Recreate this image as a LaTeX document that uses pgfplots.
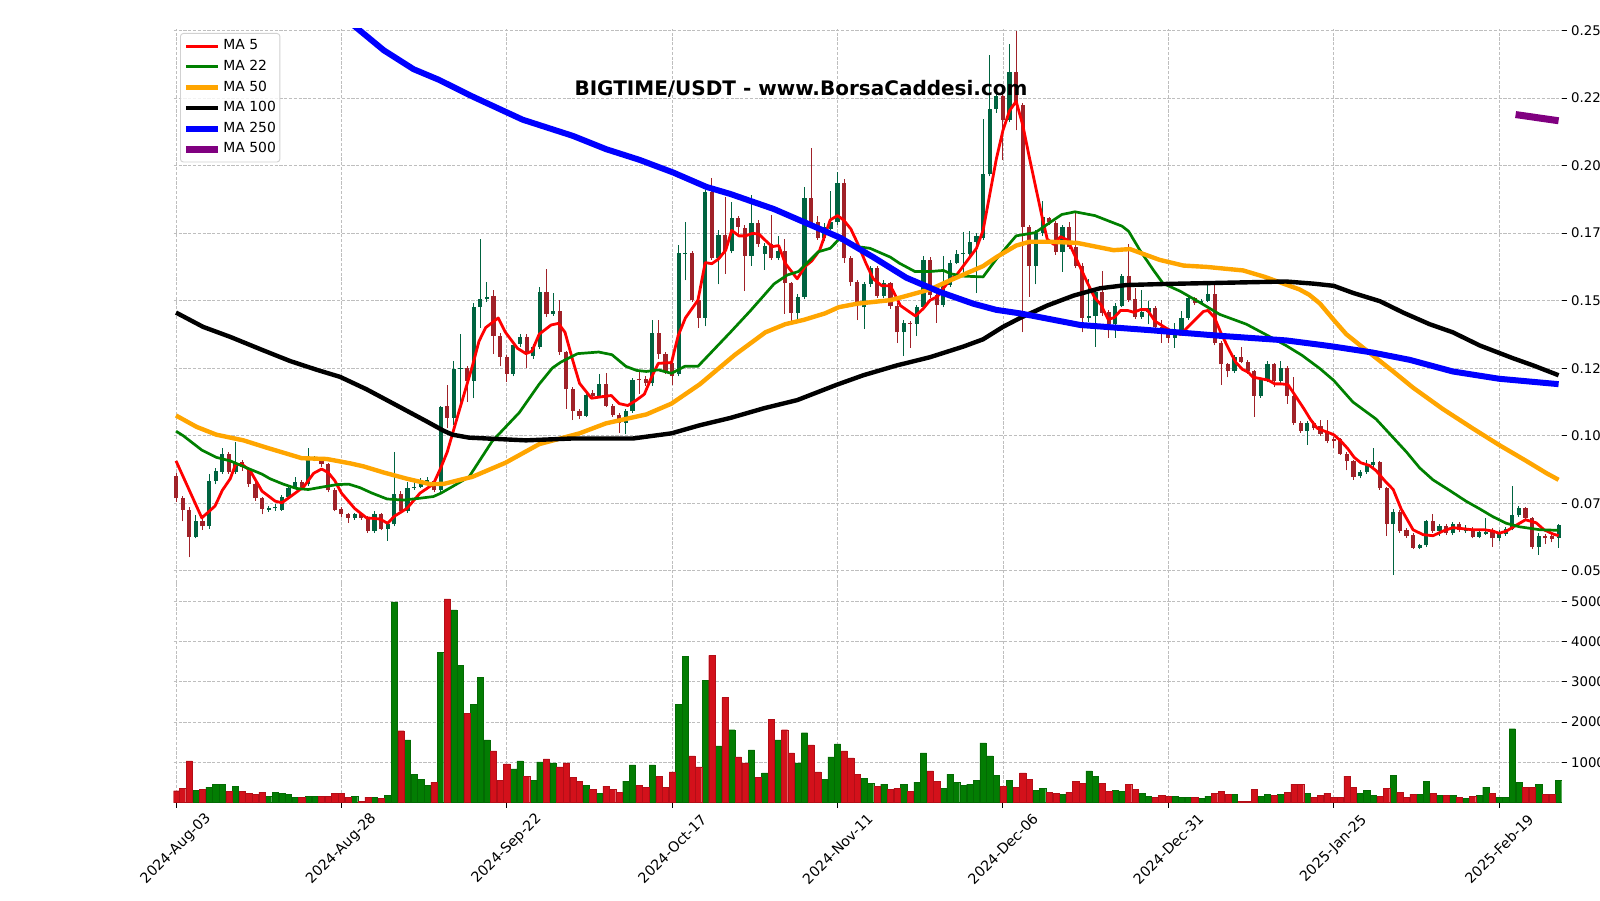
\documentclass[border=0pt]{standalone}
\usepackage{fontspec}
\setmainfont{DejaVu Sans}
\usepackage{pgfplots}
\usepackage{pgfplotstable}
\pgfplotsset{compat=1.18}
\definecolor{cup}{HTML}{006340}
\definecolor{cdn}{HTML}{A02128}
\definecolor{vup}{RGB}{3,125,3}
\definecolor{vdn}{RGB}{211,17,27}
\definecolor{maorange}{HTML}{FFA500}
\definecolor{mapurple}{HTML}{800080}
\definecolor{gridc}{RGB}{190,190,190}

\pgfplotstableread{
d o h l c v
3 0.0626 0.0705 0.0620 0.0683 308
5 0.0665 0.0858 0.0655 0.0834 383
6 0.0834 0.0880 0.0820 0.0871 458
7 0.0867 0.0956 0.0860 0.0934 458
9 0.0867 0.0977 0.0860 0.0900 408
14 0.0726 0.0740 0.0718 0.0731 158
15 0.0731 0.0748 0.0722 0.0738 258
16 0.0727 0.0782 0.0722 0.0775 233
17 0.0775 0.0815 0.0770 0.0808 208
18 0.0810 0.0848 0.0802 0.0828 133
20 0.0821 0.0953 0.0815 0.0916 158
21 0.0912 0.0925 0.0905 0.0916 158
27 0.0696 0.0715 0.0690 0.0709 158
30 0.0647 0.0722 0.0640 0.0709 133
32 0.0656 0.0680 0.0612 0.0673 183
33 0.0673 0.0940 0.0665 0.0784 4983
35 0.0722 0.0828 0.0715 0.0808 1558
36 0.0808 0.0840 0.0800 0.0812 708
37 0.0810 0.0845 0.0805 0.0832 583
38 0.0830 0.0848 0.0822 0.0838 433
40 0.0798 0.1112 0.0790 0.1105 3733
42 0.1066 0.1277 0.1040 0.1247 4783
43 0.1247 0.1377 0.1125 0.1252 3408
45 0.1202 0.1490 0.1138 0.1476 2433
46 0.1476 0.1730 0.1400 0.1506 3108
47 0.1508 0.1568 0.1495 0.1514 1558
51 0.1229 0.1345 0.1220 0.1337 833
52 0.1340 0.1375 0.1330 0.1366 1033
54 0.1295 0.1340 0.1285 0.1330 558
55 0.1330 0.1549 0.1320 0.1533 1008
57 0.1452 0.1529 0.1445 0.1460 983
62 0.1075 0.1160 0.1068 0.1152 433
64 0.1146 0.1230 0.1140 0.1190 233
68 0.1048 0.1100 0.1005 0.1093 533
69 0.1093 0.1215 0.1085 0.1208 933
72 0.1194 0.1430 0.1185 0.1380 933
76 0.1228 0.1705 0.1220 0.1678 2433
77 0.1672 0.1793 0.1575 0.1678 3633
80 0.1436 0.1910 0.1405 0.1903 3033
82 0.1657 0.1760 0.1560 0.1744 1408
84 0.1683 0.1865 0.1675 0.1806 1808
87 0.1665 0.1891 0.1630 0.1789 1308
89 0.1674 0.1715 0.1615 0.1704 733
91 0.1657 0.1740 0.1650 0.1683 1558
94 0.1456 0.1525 0.1433 0.1515 983
95 0.1515 0.1921 0.1505 0.1879 1733
98 0.1733 0.1786 0.1720 0.1773 583
99 0.1765 0.1905 0.1760 0.1790 1133
100 0.1790 0.1978 0.1780 0.1935 1458
104 0.1475 0.1570 0.1395 0.1560 608
105 0.1562 0.1630 0.1550 0.1621 483
107 0.1519 0.1575 0.1510 0.1564 458
110 0.1383 0.1428 0.1295 0.1419 458
112 0.1414 0.1485 0.1370 0.1476 508
113 0.1476 0.1667 0.1465 0.1651 1233
116 0.1485 0.1665 0.1475 0.1559 358
117 0.1559 0.1650 0.1550 0.1641 708
118 0.1641 0.1688 0.1635 0.1674 508
119 0.1672 0.1754 0.1590 0.1676 433
120 0.1674 0.1758 0.1665 0.1718 458
121 0.1718 0.1750 0.1528 0.1740 558
122 0.1733 0.2173 0.1725 0.1969 1483
123 0.1969 0.2408 0.1960 0.2209 1158
124 0.2209 0.2265 0.2195 0.2256 683
126 0.2167 0.2450 0.2160 0.2348 558
130 0.1628 0.1760 0.1560 0.1749 308
131 0.1749 0.1870 0.1740 0.1810 358
134 0.1680 0.1782 0.1608 0.1771 208
138 0.1436 0.1580 0.1420 0.1443 783
139 0.1443 0.1545 0.1330 0.1532 658
142 0.1413 0.1490 0.1362 0.1482 308
143 0.1482 0.1600 0.1475 0.1590 283
146 0.1440 0.1540 0.1432 0.1459 233
147 0.1459 0.1498 0.1412 0.1472 158
151 0.1363 0.1418 0.1325 0.1383 158
152 0.1383 0.1462 0.1375 0.1436 133
153 0.1436 0.1515 0.1430 0.1509 133
155 0.1493 0.1508 0.1485 0.1500 108
156 0.1500 0.1560 0.1495 0.1526 158
160 0.1238 0.1298 0.1232 0.1291 208
164 0.1149 0.1212 0.1140 0.1205 158
165 0.1205 0.1277 0.1198 0.1264 208
167 0.1202 0.1277 0.1195 0.1251 208
171 0.1017 0.1056 0.0967 0.1049 233
179 0.0850 0.0875 0.0842 0.0867 233
180 0.0867 0.0910 0.0860 0.0890 308
181 0.0890 0.0955 0.0885 0.0904 183
184 0.0673 0.0728 0.0484 0.0718 683
188 0.0586 0.0600 0.0580 0.0594 208
189 0.0594 0.0690 0.0588 0.0683 533
191 0.0647 0.0672 0.0630 0.0665 183
193 0.0639 0.0680 0.0632 0.0673 183
195 0.0646 0.0670 0.0640 0.0656 108
197 0.0626 0.0655 0.0620 0.0645 183
198 0.0637 0.0695 0.0632 0.0642 383
200 0.0622 0.0650 0.0612 0.0636 133
201 0.0636 0.0662 0.0630 0.0656 133
202 0.0656 0.0815 0.0650 0.0705 1833
203 0.0705 0.0740 0.0700 0.0731 508
206 0.0590 0.0640 0.0560 0.0630 458
209 0.0623 0.0675 0.0585 0.0669 558
}\upT

\pgfplotstableread{
d o h l c v
0 0.0850 0.0862 0.0755 0.0768 292
1 0.0771 0.0776 0.0683 0.0726 358
2 0.0726 0.0735 0.0550 0.0626 1033
4 0.0683 0.0705 0.0652 0.0665 333
8 0.0934 0.0940 0.0860 0.0867 283
10 0.0902 0.0910 0.0870 0.0884 283
11 0.0876 0.0885 0.0812 0.0821 233
12 0.0821 0.0828 0.0760 0.0768 208
13 0.0768 0.0772 0.0709 0.0729 258
19 0.0828 0.0835 0.0805 0.0811 133
22 0.0907 0.0912 0.0885 0.0894 158
23 0.0894 0.0900 0.0790 0.0798 158
24 0.0798 0.0805 0.0720 0.0726 233
25 0.0729 0.0735 0.0700 0.0709 233
26 0.0709 0.0715 0.0678 0.0696 133
28 0.0709 0.0715 0.0690 0.0696 30
29 0.0696 0.0702 0.0640 0.0647 133
31 0.0709 0.0715 0.0650 0.0656 108
34 0.0784 0.0795 0.0715 0.0722 1783
39 0.0834 0.0840 0.0790 0.0798 508
41 0.1112 0.1189 0.1027 0.1066 5058
44 0.1251 0.1260 0.1125 0.1202 2208
48 0.1516 0.1541 0.1302 0.1370 1283
49 0.1370 0.1380 0.1257 0.1292 558
50 0.1292 0.1300 0.1200 0.1229 958
53 0.1366 0.1375 0.1250 0.1310 658
56 0.1533 0.1617 0.1440 0.1450 1083
58 0.1460 0.1502 0.1300 0.1310 883
59 0.1310 0.1315 0.1100 0.1172 983
60 0.1172 0.1180 0.1058 0.1092 633
61 0.1092 0.1100 0.1062 0.1075 533
63 0.1160 0.1168 0.1140 0.1148 333
65 0.1190 0.1234 0.1105 0.1110 408
66 0.1112 0.1118 0.1070 0.1078 333
67 0.1078 0.1085 0.1012 0.1048 258
70 0.1211 0.1245 0.1155 0.1205 433
71 0.1211 0.1220 0.1185 0.1194 383
73 0.1380 0.1430 0.1285 0.1304 658
74 0.1304 0.1310 0.1230 0.1238 383
75 0.1268 0.1275 0.1188 0.1222 758
78 0.1678 0.1685 0.1495 0.1502 1158
79 0.1502 0.1510 0.1400 0.1436 883
81 0.1903 0.1955 0.1650 0.1657 3658
83 0.1744 0.1885 0.1600 0.1685 2608
85 0.1806 0.1815 0.1745 0.1773 1133
86 0.1770 0.1780 0.1535 0.1665 983
88 0.1789 0.1800 0.1700 0.1710 633
90 0.1710 0.1817 0.1650 0.1657 2058
92 0.1683 0.1727 0.1451 0.1564 1808
93 0.1564 0.1570 0.1423 0.1456 1233
96 0.1879 0.2067 0.1775 0.1786 1433
97 0.1793 0.1815 0.1725 0.1733 758
101 0.1935 0.1950 0.1640 0.1657 1283
102 0.1657 0.1665 0.1555 0.1568 1108
103 0.1568 0.1575 0.1428 0.1488 708
106 0.1621 0.1630 0.1510 0.1519 408
108 0.1564 0.1570 0.1470 0.1482 333
109 0.1482 0.1490 0.1343 0.1383 358
111 0.1419 0.1425 0.1325 0.1414 283
114 0.1651 0.1660 0.1510 0.1522 783
115 0.1522 0.1530 0.1418 0.1485 533
125 0.2256 0.2265 0.2020 0.2167 408
127 0.2348 0.2498 0.2130 0.2223 383
128 0.2223 0.2230 0.1383 0.1771 733
129 0.1771 0.1780 0.1515 0.1628 583
132 0.1805 0.1810 0.1780 0.1790 258
133 0.1789 0.1795 0.1670 0.1680 233
135 0.1771 0.1790 0.1690 0.1700 258
136 0.1700 0.1830 0.1620 0.1630 533
137 0.1630 0.1640 0.1383 0.1436 483
140 0.1532 0.1610 0.1445 0.1453 483
141 0.1459 0.1465 0.1362 0.1413 283
144 0.1590 0.1710 0.1495 0.1502 458
145 0.1506 0.1546 0.1432 0.1440 333
148 0.1472 0.1480 0.1395 0.1403 133
149 0.1403 0.1430 0.1345 0.1395 183
150 0.1390 0.1395 0.1343 0.1363 158
154 0.1509 0.1515 0.1485 0.1493 133
157 0.1526 0.1564 0.1335 0.1343 233
158 0.1343 0.1350 0.1189 0.1264 283
159 0.1264 0.1270 0.1216 0.1238 208
161 0.1291 0.1327 0.1268 0.1274 20
162 0.1274 0.1280 0.1230 0.1238 20
163 0.1238 0.1244 0.1070 0.1149 333
166 0.1264 0.1270 0.1180 0.1202 183
168 0.1251 0.1258 0.1118 0.1149 258
169 0.1149 0.1218 0.1040 0.1049 458
170 0.1049 0.1055 0.1010 0.1017 458
172 0.1049 0.1055 0.1020 0.1030 133
173 0.1035 0.1059 0.1000 0.1006 183
174 0.1013 0.1057 0.0972 0.0980 233
175 0.0987 0.0995 0.0955 0.0980 133
176 0.0987 0.0992 0.0928 0.0934 133
177 0.0934 0.0940 0.0872 0.0907 658
178 0.0907 0.0912 0.0838 0.0848 383
182 0.0903 0.0908 0.0800 0.0808 158
183 0.0808 0.0812 0.0630 0.0673 358
185 0.0718 0.0725 0.0640 0.0649 258
186 0.0652 0.0660 0.0622 0.0630 133
187 0.0634 0.0640 0.0580 0.0586 208
190 0.0683 0.0709 0.0640 0.0647 233
192 0.0665 0.0672 0.0632 0.0639 183
194 0.0673 0.0680 0.0645 0.0652 133
196 0.0656 0.0662 0.0620 0.0626 158
199 0.0652 0.0660 0.0590 0.0620 233
204 0.0731 0.0738 0.0690 0.0696 383
205 0.0696 0.0700 0.0580 0.0590 383
207 0.0630 0.0635 0.0600 0.0620 208
208 0.0630 0.0640 0.0605 0.0618 208
}\dnT

\pgfplotsset{
  mygrid/.style={grid=major, major grid style={gridc, line width=0.8pt, dash pattern=on 3.2pt off 1.6pt}},
}

\begin{document}
\begin{tikzpicture}
\useasboundingbox (0,0) rectangle (1600pt,900pt);

% ---------------- price panel ----------------
\begin{axis}[
  at={(173.7pt,317pt)}, anchor=south west, scale only axis,
  width=1388.2pt, height=554.4pt,
  xmin=-0.35, xmax=209.5, ymin=0.0455, ymax=0.25072,
  axis line style={draw=none},
  xtick={0,25,50,75,100,125,150,175,200}, xticklabels={}, xtick style={draw=none},
  ytick={0.05,0.075,0.1,0.125,0.15,0.175,0.2,0.225,0.25},
  yticklabels={0.050,0.075,0.100,0.125,0.150,0.175,0.200,0.225,0.250},
  ytick pos=right, yticklabel pos=right,
  tick align=outside, major tick length=5pt,
  ytick style={black, line width=0.9pt},
  yticklabel style={font=\fontsize{13.3}{15}\selectfont, anchor=west, inner sep=0pt, xshift=4pt},
  mygrid,
  legend image code/.code={\draw[#1, line cap=butt] (0pt,0pt) -- (32pt,0pt);},
  legend cell align=left,
  legend style={at={(axis description cs:0,1)}, anchor=north west, xshift=6.3pt, yshift=-4.4pt,
    font=\fontsize{13.9}{16}\selectfont, draw=black!18, line width=0.9pt, rounded corners=3pt,
    fill=white, fill opacity=0.8, text opacity=1, inner xsep=2pt, inner ysep=2.5pt, row sep=0pt,
    nodes={inner xsep=2pt, inner ysep=3.6pt, text height=10.4pt, text depth=3pt},
    /tikz/every even column/.append style={column sep=5pt}},
]
% wicks
\addplot[forget plot, draw=none, mark=none, error bars/.cd, y dir=plus, y explicit, error mark=none,
  error bar style={draw=cup, line width=1pt, solid}]
  table[x=d, y=l, y error expr={\thisrow{h}-\thisrow{l}}] {\upT};
\addplot[forget plot, draw=none, mark=none, error bars/.cd, y dir=plus, y explicit, error mark=none,
  error bar style={draw=cdn, line width=1pt, solid}]
  table[x=d, y=l, y error expr={\thisrow{h}-\thisrow{l}}] {\dnT};
% bodies
\addplot[forget plot, draw=none, mark=none, error bars/.cd, y dir=plus, y explicit, error mark=none,
  error bar style={draw=cup, line width=4.2pt, solid, line cap=butt}]
  table[x=d, y=o, y error expr={\thisrow{c}-\thisrow{o}}] {\upT};
\addplot[forget plot, draw=none, mark=none, error bars/.cd, y dir=plus, y explicit, error mark=none,
  error bar style={draw=cdn, line width=4.2pt, solid, line cap=butt}]
  table[x=d, y=c, y error expr={\thisrow{o}-\thisrow{c}}] {\dnT};

% moving averages
\addplot[red, line width=2.8pt, line join=round] coordinates {
(0,0.0907) (3.9,0.0696) (5.9,0.0740) (7,0.0798) (8.2,0.0841) (9,0.0894) (10,0.0894) (11.2,0.0871)
(13,0.0795) (15,0.0758) (16,0.0752) (17.7,0.0782) (19.3,0.0811) (20.8,0.0861) (22,0.0877) (23,0.0864)
(24,0.0834) (25,0.0788) (27,0.0731) (28.8,0.0696) (30.8,0.0692) (32,0.0676) (33,0.0702) (34.9,0.0731)
(36.9,0.0788) (38.9,0.0821) (40,0.0880) (41,0.0940) (42.8,0.1092) (44.8,0.1258) (45.8,0.1350)
(46.8,0.1400) (48.7,0.1436) (49.8,0.1383) (51.6,0.1324) (52.9,0.1304) (53.8,0.1313) (54.9,0.1376)
(56.7,0.1410) (57.8,0.1416) (58.8,0.1383) (60,0.1277) (61,0.1194) (62.8,0.1139) (64.5,0.1145)
(65.8,0.1149) (67,0.1119) (68.3,0.1112) (69.6,0.1132) (70.8,0.1154) (71.9,0.1218) (72.9,0.1268)
(74.9,0.1271) (75.9,0.1370) (77,0.1436) (78.9,0.1502) (80,0.1641) (81,0.1637) (82,0.1654)
(83.1,0.1687) (84,0.1760) (85.1,0.1740) (86.1,0.1740) (87.1,0.1749) (88.1,0.1747) (89.1,0.1723)
(90.1,0.1700) (91.1,0.1704) (92.1,0.1638) (93.9,0.1581) (95.1,0.1627) (96.1,0.1647) (97.3,0.1687)
(98.9,0.1799) (100,0.1815) (100.9,0.1799) (102,0.1766) (103,0.1714) (104.3,0.1638) (105.4,0.1581)
(106.7,0.1555) (108,0.1555) (109.5,0.1482) (110.9,0.1458) (111.8,0.1443) (113,0.1472) (114,0.1502)
(115.1,0.1515) (116,0.1546) (117,0.1577) (118,0.1595) (119,0.1628) (120,0.1661) (121,0.1694)
(122,0.1760) (123,0.1892) (124,0.2024) (125,0.2130) (126,0.2203) (127,0.2238) (128,0.2150)
(129,0.2030) (130,0.1915) (131,0.1801) (131.7,0.1728) (132.7,0.1708) (133.7,0.1737) (134.8,0.1724)
(136.7,0.1623) (137.7,0.1570) (138.9,0.1510) (139.8,0.1486) (140.9,0.1431) (141.8,0.1437)
(142.8,0.1464) (143.8,0.1464) (144.8,0.1457) (145.8,0.1467) (146.8,0.1467) (148,0.1424)
(149.7,0.1398) (150.7,0.1384) (151.9,0.1375) (153,0.1404) (154.2,0.1433) (155.3,0.1460) (156,0.1464)
(157,0.1437) (158,0.1378) (159.2,0.1318) (160.2,0.1272) (161.2,0.1246) (162.1,0.1235) (162.8,0.1217)
(163.8,0.1212) (165.1,0.1206) (166.1,0.1192) (167.1,0.1192) (168.1,0.1189) (169.1,0.1152)
(170.5,0.1100) (171.5,0.1060) (172.5,0.1028) (173.5,0.1018) (174.1,0.1013) (175,0.1004)
(176.1,0.0980) (177.1,0.0953) (178.1,0.0920) (179.1,0.0900) (180.4,0.0890) (181.4,0.0871)
(182.7,0.0834) (184,0.0801) (185.2,0.0729) (187,0.0652) (188.5,0.0634) (190,0.0630) (191.5,0.0647)
(193,0.0660) (194.5,0.0656) (196,0.0652) (197.8,0.0652) (199.1,0.0647) (200,0.0639) (201.1,0.0647)
(202.6,0.0669) (204,0.0689) (205.6,0.0678) (206.8,0.0652) (208.2,0.0636) (209,0.0630)
};
\addlegendentry{MA 5}
\addplot[green!50!black, line width=2.7pt, line join=round] coordinates {
(0,0.1017) (1.1,0.1000) (3.9,0.0947) (6.1,0.0920) (8.2,0.0907) (10.7,0.0881) (13,0.0858) (14.2,0.0841)
(16.2,0.0821) (18.2,0.0805) (20,0.0801) (22.3,0.0811) (24.3,0.0819) (26.1,0.0821) (27.8,0.0808)
(29.6,0.0788) (31.9,0.0766) (34.4,0.0762) (36.6,0.0768) (38.9,0.0775) (40,0.0787) (42,0.0815)
(44.3,0.0848) (47.8,0.0980) (51.9,0.1086) (54.9,0.1191) (56.9,0.1251) (58.2,0.1273) (60.7,0.1304)
(63.9,0.1310) (65.9,0.1300) (68,0.1257) (69.6,0.1242) (71.1,0.1238) (72.9,0.1244) (74.9,0.1231)
(76.9,0.1257) (78.9,0.1257) (83.8,0.1383) (86.8,0.1462) (90.4,0.1562) (92.4,0.1595) (94.1,0.1608)
(97.1,0.1681) (98.9,0.1694) (100.2,0.1727) (103,0.1700) (104.9,0.1694) (108,0.1661) (109.4,0.1638)
(111.7,0.1608) (114,0.1608) (116,0.1612) (117.2,0.1599) (119,0.1591) (122,0.1588) (124,0.1654)
(127,0.1740) (129.9,0.1752) (131.9,0.1786) (133.9,0.1819) (135.9,0.1829) (138.9,0.1815)
(141.2,0.1793) (143,0.1776) (144,0.1757) (145.7,0.1687) (147.7,0.1615) (149.2,0.1564) (151.8,0.1535)
(154.8,0.1493) (157.8,0.1449) (161.8,0.1413) (165.1,0.1370) (167.8,0.1334) (170.2,0.1298)
(172.9,0.1249) (175,0.1205) (177.9,0.1125) (181.4,0.1062) (184,0.0993) (186,0.0940) (188,0.0881)
(190,0.0837) (192.5,0.0798) (195,0.0758) (197.1,0.0729) (199.1,0.0700) (201.1,0.0676) (203.1,0.0663)
(206.2,0.0652) (209,0.0650)
};
\addlegendentry{MA 22}
\addplot[maorange, line width=4.4pt, line join=round] coordinates {
(0,0.1075) (3.1,0.1033) (6.1,0.1004) (10.2,0.0983) (13.7,0.0956) (16.7,0.0934) (19,0.0917)
(22.8,0.0914) (26.3,0.0898) (28.3,0.0887) (31.4,0.0864) (34.9,0.0841) (38.4,0.0821) (40.5,0.0822)
(44.8,0.0848) (49.8,0.0900) (54.9,0.0969) (61,0.1009) (65,0.1046) (71.1,0.1079) (74.9,0.1119)
(79.2,0.1191) (84.5,0.1300) (89.1,0.1383) (92.1,0.1413) (94.9,0.1429) (98.1,0.1453) (100.2,0.1476)
(103,0.1489) (108,0.1502) (110,0.1515) (114,0.1542) (117,0.1575) (122,0.1628) (124,0.1661)
(127,0.1704) (129,0.1718) (132.2,0.1718) (136.2,0.1714) (141.7,0.1687) (144.2,0.1691) (148.7,0.1651)
(152.3,0.1630) (155.8,0.1625) (161.3,0.1612) (164.6,0.1588) (167.3,0.1564) (169.8,0.1542)
(171.3,0.1522) (172.9,0.1490) (175,0.1429) (176.9,0.1376) (179.9,0.1317) (184,0.1238) (187,0.1178)
(191.5,0.1099) (196.1,0.1026) (200,0.0966) (204.1,0.0907) (207.2,0.0861) (209,0.0837)
};
\addlegendentry{MA 50}
\addplot[black, line width=4.4pt, line join=round] coordinates {
(0,0.1456) (4.1,0.1403) (8.2,0.1366) (12.7,0.1321) (17.2,0.1277) (21.3,0.1244) (24.8,0.1218)
(28.8,0.1172) (33.4,0.1112) (37.9,0.1053) (40.5,0.1018) (41.8,0.1004) (44.3,0.0993) (52.9,0.0983)
(60,0.0990) (69.1,0.0990) (74.9,0.1009) (79.2,0.1039) (83.8,0.1066) (88.9,0.1102) (93.9,0.1132)
(99.9,0.1189) (103.9,0.1224) (108.9,0.1260) (114,0.1291) (119,0.1330) (122,0.1357) (125,0.1403)
(127.6,0.1436) (131.7,0.1482) (135.7,0.1519) (139.7,0.1546) (143.7,0.1558) (149.7,0.1562)
(157.8,0.1566) (167.8,0.1571) (172,0.1563) (175,0.1555) (177.9,0.1529) (182,0.1498) (185.5,0.1456)
(189.5,0.1413) (193,0.1383) (197.1,0.1334) (202.1,0.1287) (205.2,0.1260) (209,0.1224)
};
\addlegendentry{MA 100}
\addplot[blue, line width=6pt, line join=round] coordinates {
(24,0.2580) (27,0.2516) (31.4,0.2427) (35.9,0.2357) (39.7,0.2318) (44.8,0.2256) (52.4,0.2170)
(60,0.2110) (65,0.2061) (70.1,0.2021) (75.2,0.1974) (80.2,0.1921) (83.8,0.1895) (90.4,0.1839)
(95.4,0.1786) (100.4,0.1733) (105.4,0.1661) (110.4,0.1585) (115.5,0.1532) (120.5,0.1489)
(124,0.1466) (127.6,0.1453) (136.7,0.1410) (147.7,0.1390) (157.8,0.1370) (167.8,0.1353)
(172.9,0.1337) (175,0.1330) (180.9,0.1308) (186.5,0.1281) (193,0.1238) (200,0.1211) (209,0.1191)
};
\addlegendentry{MA 250}
\addplot[mapurple, line width=7pt] coordinates {(202.5,0.2189) (209,0.2166)};
\addlegendentry{MA 500}
\end{axis}

% ---------------- volume panel ----------------
\begin{axis}[
  at={(173.7pt,97.5pt)}, anchor=south west, scale only axis,
  width=1388.2pt, height=219.5pt,
  xmin=-0.35, xmax=209.5, ymin=0, ymax=5453,
  axis line style={draw=none},
  xtick={0,25,50,75,100,125,150,175,200},
  xticklabels={2024-Aug-03,2024-Aug-28,2024-Sep-22,2024-Oct-17,2024-Nov-11,2024-Dec-06,2024-Dec-31,2025-Jan-25,2025-Feb-19},
  xtick pos=bottom,
  ytick={1000,2000,3000,4000,5000},
  yticklabels={10000000,20000000,30000000,40000000,50000000},
  ytick pos=right, yticklabel pos=right,
  tick align=outside, major tick length=5pt,
  tick style={black, line width=0.9pt},
  yticklabel style={font=\fontsize{13.3}{15}\selectfont, anchor=west, inner sep=0pt, xshift=4pt},
  xticklabel style={font=\fontsize{14.2}{16}\selectfont, inner sep=0pt, anchor=center, yshift=-41.5pt, rotate=45},
  mygrid,
]
\addplot[ybar, bar width=0.94, bar shift=0pt, fill=vup, draw=vup!85!black, line width=0.4pt, forget plot]
  table[x=d, y=v] {\upT};
\addplot[ybar, bar width=0.94, bar shift=0pt, fill=vdn, draw=vdn!85!black, line width=0.4pt, forget plot]
  table[x=d, y=v] {\dnT};
\end{axis}

\node[font=\fontsize{20}{23}\selectfont\bfseries] at (801pt,811pt) {BIGTIME/USDT - www.BorsaCaddesi.com};
\end{tikzpicture}
\end{document}
